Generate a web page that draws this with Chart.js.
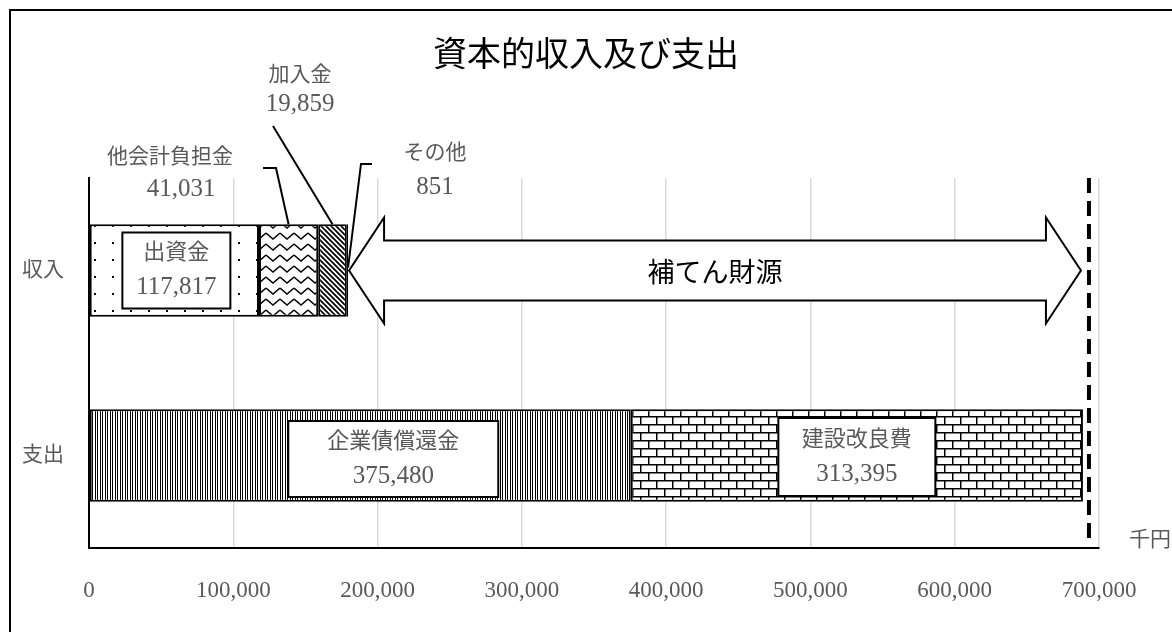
<!DOCTYPE html>
<html>
<head>
<meta charset="utf-8">
<script src="https://cdn.jsdelivr.net/npm/chart.js@4"></script>
<style>html,body{margin:0;padding:0;background:#fff}</style>
</head>
<body>
<canvas id="c" width="1172" height="632"></canvas>
<script>
const categories = ['収入', '支出'];
const incomeNames = ['出資金', '他会計負担金', '加入金', 'その他'];
const incomeValues = [117817, 41031, 19859, 851];
const expenseNames = ['企業債償還金', '建設改良費'];
const expenseValues = [375480, 313395];
const xTickLabels = ['0', '100,000', '200,000', '300,000', '400,000', '500,000', '600,000', '700,000'];
const fillLabel = '補てん財源';
const unitLabel = '千円';
const titleText = '資本的収入及び支出';

const FONT = '"Liberation Serif", "Noto Sans CJK JP", serif';
const GREY = '#595959';

const canvas = document.getElementById('c');
const ctx = canvas.getContext('2d');

function makePattern(w, h, draw) {
  const t = document.createElement('canvas');
  t.width = w; t.height = h;
  const g = t.getContext('2d');
  g.fillStyle = '#fff';
  g.fillRect(0, 0, w, h);
  g.fillStyle = '#000';
  g.strokeStyle = '#000';
  draw(g);
  return ctx.createPattern(t, 'repeat');
}

const dots = makePattern(18, 17, g => { g.fillRect(4, 4, 2, 2); });
const wave = makePattern(14, 11, g => {
  g.lineWidth = 1.5;
  g.beginPath();
  g.moveTo(0, 2); g.lineTo(7, 8); g.lineTo(14, 2);
  g.stroke();
});
const diag = makePattern(5, 5, g => {
  g.lineWidth = 1.8;
  g.beginPath();
  g.moveTo(-1, -1); g.lineTo(6, 6);
  g.moveTo(-1, 4); g.lineTo(1, 6);
  g.moveTo(4, -1); g.lineTo(6, 1);
  g.stroke();
});
const vlines = makePattern(5, 1, g => { g.fillRect(0, 0, 1, 1); g.fillRect(2, 0, 1, 1); });
const brick = makePattern(16, 16, g => {
  g.lineWidth = 1.5;
  g.beginPath();
  g.moveTo(0, 0.75); g.lineTo(16, 0.75);
  g.moveTo(0, 8.75); g.lineTo(16, 8.75);
  g.moveTo(0.75, 0); g.lineTo(0.75, 8);
  g.moveTo(8.75, 8); g.lineTo(8.75, 16);
  g.stroke();
});

const incomePatterns = [dots, wave, diag, '#000'];
const expensePatterns = [vlines, brick];

const datasets = [];
incomeNames.forEach((n, i) => {
  datasets.push({ label: n, data: [incomeValues[i], null], backgroundColor: incomePatterns[i] });
});
expenseNames.forEach((n, i) => {
  datasets.push({ label: n, data: [null, expenseValues[i]], backgroundColor: expensePatterns[i] });
});
datasets.forEach(d => {
  d.borderColor = '#000';
  d.borderWidth = 2;
  d.borderSkipped = false;
  d.stack = 's';
  d.barPercentage = 0.5;
  d.categoryPercentage = 1.0;
});

function textAt(c, s, x, y, size, color) {
  c.fillStyle = color;
  c.font = size + 'px ' + FONT;
  c.textAlign = 'center';
  c.textBaseline = 'middle';
  c.fillText(s, x, y);
}

function boxLabel(c, cx, cy, w, h, name, num) {
  c.fillStyle = '#fff';
  c.fillRect(cx - w / 2, cy - h / 2, w, h);
  c.strokeStyle = '#000';
  c.lineWidth = 2;
  c.strokeRect(cx - w / 2, cy - h / 2, w, h);
  textAt(c, name, cx, cy - 17, 22, GREY);
  textAt(c, num, cx, cy + 17, 25, GREY);
}

const fmt = v => v.toLocaleString('en-US');

const overlay = {
  id: 'overlay',
  afterDraw(chart) {
    const c = chart.ctx;
    const ca = chart.chartArea;
    const xs = chart.scales.x;
    c.save();

    // frame
    c.strokeStyle = '#000';
    c.lineWidth = 2;
    c.strokeRect(10, 10, 1300, 800);

    // title
    textAt(c, titleText, 586, 57, 34, '#000');

    const bar = (ds, cat) => chart.getDatasetMeta(ds).data[cat];
    const mid = b => (b.x + b.base) / 2;

    // dashed total line
    const expTotal = expenseValues.reduce((a, b) => a + b, 0);
    const incTotal = incomeValues.reduce((a, b) => a + b, 0);
    const xd = xs.getPixelForValue(expTotal) + 6;
    c.strokeStyle = '#000';
    c.lineWidth = 4;
    c.setLineDash([15, 8]);
    c.beginPath();
    c.moveTo(xd, ca.top);
    c.lineTo(xd, ca.bottom - 3);
    c.stroke();
    c.setLineDash([]);

    // double arrow
    const b0 = bar(0, 0);
    const yc = b0.y;
    const xl = xs.getPixelForValue(incTotal) + 1;
    const xr = xd - 8;
    const sh = 30, hh = 53, hl = 35;
    c.beginPath();
    c.moveTo(xl, yc);
    c.lineTo(xl + hl, yc - hh);
    c.lineTo(xl + hl, yc - sh);
    c.lineTo(xr - hl, yc - sh);
    c.lineTo(xr - hl, yc - hh);
    c.lineTo(xr, yc);
    c.lineTo(xr - hl, yc + hh);
    c.lineTo(xr - hl, yc + sh);
    c.lineTo(xl + hl, yc + sh);
    c.lineTo(xl + hl, yc + hh);
    c.closePath();
    c.fillStyle = '#fff';
    c.fill();
    c.lineWidth = 2;
    c.lineJoin = 'miter';
    c.stroke();
    textAt(c, fillLabel, (xl + xr) / 2, yc + 4, 27, '#000');

    // labels inside bars
    boxLabel(c, mid(b0) + 2, b0.y, 108, 76, incomeNames[0], fmt(incomeValues[0]));
    const e0 = bar(4, 1);
    boxLabel(c, mid(e0) + 33, e0.y + 3.5, 210, 76, expenseNames[0], fmt(expenseValues[0]));
    const e1 = bar(5, 1);
    boxLabel(c, mid(e1), e1.y + 1.5, 157, 78, expenseNames[1], fmt(expenseValues[1]));

    // outside labels with leader lines
    c.strokeStyle = '#000';
    c.lineWidth = 2;
    const b1 = bar(1, 0), b2 = bar(2, 0), b3 = bar(3, 0);
    const top = b0.y - b0.height / 2;
    c.beginPath();
    c.moveTo(263, 168); c.lineTo(276, 168); c.lineTo(mid(b1), top);
    c.moveTo(273, 126); c.lineTo(mid(b2), top);
    c.moveTo(372, 164); c.lineTo(361, 164); c.lineTo(b3.x, b3.y - 3);
    c.stroke();
    textAt(c, incomeNames[1], 170, 157, 21, GREY);
    textAt(c, fmt(incomeValues[1]), 181, 189, 25, GREY);
    textAt(c, incomeNames[2], 300, 75, 21, GREY);
    textAt(c, fmt(incomeValues[2]), 300, 104, 25, GREY);
    textAt(c, incomeNames[3], 435, 153, 21, GREY);
    textAt(c, fmt(incomeValues[3]), 435, 187, 25, GREY);

    // unit
    textAt(c, unitLabel, 1150, 540, 21, GREY);
    c.restore();
  }
};

new Chart(canvas, {
  type: 'bar',
  data: { labels: categories, datasets: datasets },
  options: {
    indexAxis: 'y',
    responsive: false,
    animation: false,
    devicePixelRatio: 1,
    layout: { padding: { top: 178, right: 73, left: 0, bottom: 0 } },
    plugins: { legend: { display: false }, tooltip: { enabled: false } },
    scales: {
      x: {
        type: 'linear',
        stacked: true,
        min: 0,
        max: 700000,
        afterFit: s => { s.height = 84; },
        ticks: {
          stepSize: 100000,
          padding: 29,
          color: GREY,
          font: { family: FONT, size: 23 },
          callback: (v, i) => xTickLabels[i]
        },
        grid: { color: '#d9d9d9', lineWidth: 1.5, drawTicks: false },
        border: { color: '#000', width: 2 }
      },
      y: {
        stacked: true,
        afterFit: s => { s.width = 89; },
        ticks: { padding: 25, color: GREY, font: { family: FONT, size: 21 } },
        grid: { display: false, drawTicks: false },
        border: { color: '#000', width: 2 }
      }
    }
  },
  plugins: [overlay]
});
</script>
</body>
</html>
